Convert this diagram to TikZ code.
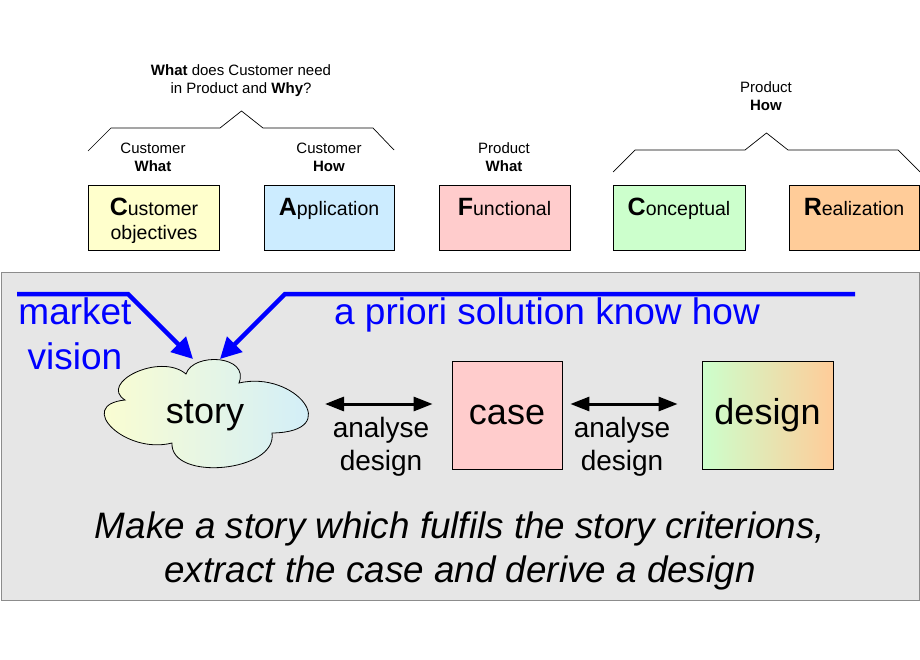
\documentclass[tikz,border=0pt]{standalone}
\usepackage{fontspec}
\setmainfont{Liberation Sans}
\usetikzlibrary{arrows.meta}
\definecolor{cyel}{HTML}{FFFFCC}
\definecolor{cblu}{HTML}{CCECFF}
\definecolor{cpnk}{HTML}{FFCCCC}
\definecolor{cgrn}{HTML}{CCFFCC}
\definecolor{corg}{HTML}{FFCC99}
\definecolor{panel}{HTML}{E6E6E6}
\definecolor{pedge}{HTML}{8C8C8C}
\newcommand\fsz[1]{\fontsize{#1}{#1}\selectfont}
\newcommand\bigL[1]{{\fsz{25}\bfseries #1}}
\begin{document}
\begin{tikzpicture}[x=1pt,y=-1pt,
  topbox/.style={draw=black, line width=0.8pt, minimum height=65pt, inner sep=0pt},
  lbl/.style={anchor=base, inner sep=0pt, font=\fsz{15}},
  boxtxt/.style={anchor=base, inner sep=0pt, font=\fsz{19.5}},
  bluetxt/.style={anchor=base, inner sep=0pt, text=blue, font=\fsz{37}},
  bigtxt/.style={anchor=base, inner sep=0pt, font=\fsz{36}},
  midtxt/.style={anchor=base, inner sep=0pt, font=\fsz{28}},
  brace/.style={draw=black, line width=0.7pt},
  bluearrow/.style={draw=blue, line width=4.5pt, line join=miter, -{Triangle[length=21pt,width=21pt]}},
  dblarrow/.style={draw=black, line width=3pt, {Triangle[length=19pt,width=14pt]}-{Triangle[length=19pt,width=14pt]}},
  bigbox/.style={draw=black, line width=0.8pt, minimum height=108pt, inner sep=0pt, font=\fsz{36}},
  cloudshape/.style={draw=black, line width=0.8pt, left color=cyel, right color=cblu}
]
\useasboundingbox (0,0) rectangle (920,660);
\fill[white] (0,0) rectangle (920,660);

% top question
\node[lbl] (q1) at (241,76) {\textbf{What} does Customer need};
\node[lbl] (q2) at (241,94) {in Product and \textbf{Why}?};
\draw[brace] (88,151) -- (111,128) -- (220,128) -- (241.5,111) -- (263,128) -- (373,128) -- (394,150);

\node[lbl] (cw1) at (153,154) {Customer};
\node[lbl] (cw2) at (153,172) {\textbf{What}};
\node[lbl] (ch1) at (329,154) {Customer};
\node[lbl] (ch2) at (329,172) {\textbf{How}};
\node[lbl] (pw1) at (504,154) {Product};
\node[lbl] (pw2) at (504,172) {\textbf{What}};
\node[lbl] (ph1) at (766,93) {Product};
\node[lbl] (ph2) at (766,111) {\textbf{How}};
\draw[brace] (613,172) -- (635,150) -- (745,150) -- (766.5,133) -- (788,150) -- (898,150) -- (920,172);

% top boxes
\node[topbox, fill=cyel, minimum width=131pt] (bC) at (153.5,217.5) {};
\node[topbox, fill=cblu, minimum width=130pt] (bA) at (329,217.5) {};
\node[topbox, fill=cpnk, minimum width=131pt] (bF) at (504.5,217.5) {};
\node[topbox, fill=cgrn, minimum width=132pt] (bCo) at (679,217.5) {};
\node[topbox, fill=corg, minimum width=130pt] (bR) at (854,217.5) {};

\node[boxtxt] (tC1) at (154,216) {\bigL{C}ustomer};
\node[boxtxt] (tC2) at (154,240) {objectives};
\node[boxtxt] (tA) at (329,216) {\bigL{A}pplication};
\node[boxtxt] (tF) at (504.5,216) {\bigL{F}unctional};
\node[boxtxt] (tCo) at (679,216) {\bigL{C}onceptual};
\node[boxtxt] (tR) at (854,216) {\bigL{R}ealization};

% panel
\draw[draw=pedge, fill=panel, line width=0.8pt] (1,272) rectangle (919,600);

% blue text
\node[bluetxt] (mk) at (75,324) {market};
\node[bluetxt] (vs) at (75,369) {vision};
\node[bluetxt] (ap) at (547,324) {a priori solution know how};

% cloud
\draw[cloudshape] (125,400)
  .. controls (98,383) and (160,352) .. (186,374)
  .. controls (193,352) and (250,355) .. (239,383)
  .. controls (295,370) and (345,432) .. (272,433)
  .. controls (278,472) and (170,482) .. (172,443)
  .. controls (125,455) and (75,405) .. (125,400) -- cycle;
\node[inner sep=0pt, font=\fsz{36}] (story) at (205,416) {story};
\coordinate (cloudE) at (309,404);

% blue arrows
\coordinate (m0) at (17,294);
\coordinate (m1) at (128,294);
\coordinate (s1) at (193,359);
\coordinate (p0) at (855,294);
\coordinate (p1) at (285,294);
\coordinate (s2) at (220,359);
\draw[bluearrow] (m0) -- (m1) -- (s1);
\draw[bluearrow] (p0) -- (p1) -- (s2);

\node[bigbox, fill=cpnk, minimum width=110pt] (case) at (507,415) {case};
\node[bigbox, left color=cgrn, right color=corg, minimum width=131pt] (design) at (767.5,415) {design};

\draw[dblarrow, shorten <=16pt, shorten >=19pt] (cloudE) -- ([yshift=11pt]case.west);
\draw[dblarrow, shorten <=8pt, shorten >=24pt] ([yshift=11pt]case.east) -- ([yshift=11pt]design.west);

\node[midtxt] (a1) at (381,437) {analyse};
\node[midtxt] (d1) at (381,470) {design};
\node[midtxt] (a2) at (622,437) {analyse};
\node[midtxt] (d2) at (622,470) {design};

\node[bigtxt, font=\fsz{36.8}\itshape] (b1) at (460,538) {Make a story which fulfils the story criterions,};
\node[bigtxt, font=\fsz{36.8}\itshape] (b2) at (460,582) {extract the case and derive a design};
\end{tikzpicture}
\end{document}
